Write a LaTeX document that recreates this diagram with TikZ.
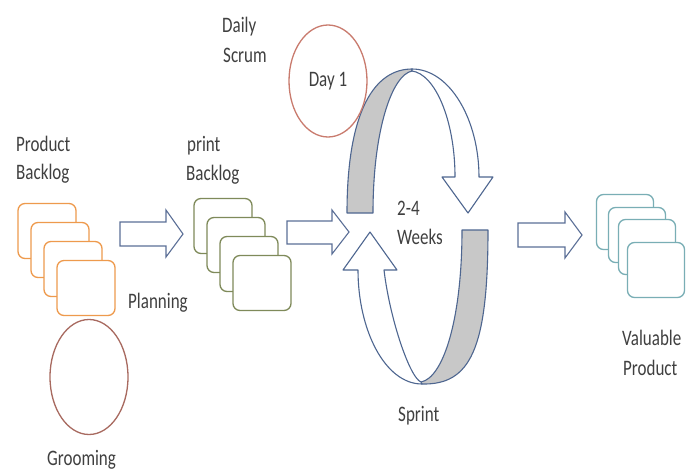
\documentclass[tikz,border=0pt]{standalone}
\usepackage{fontspec}
\setmainfont{Carlito}
\usepackage{graphicx}
\usetikzlibrary{shapes.geometric}

\definecolor{inkgray}{HTML}{404040}
\definecolor{cardorange}{HTML}{EE9A4D}
\definecolor{cardolive}{HTML}{7F8A5A}
\definecolor{cardteal}{HTML}{79AEB5}
\definecolor{dayred}{HTML}{C97B6E}
\definecolor{groomred}{HTML}{A86A60}
\definecolor{arrowblue}{HTML}{5B6F97}
\definecolor{ringblue}{HTML}{4E6690}
\definecolor{ringgray}{HTML}{C8C8C8}

% labels are set slightly taller than wide
\newcommand\tallword[1]{\scalebox{1}[1.3]{#1}}

\begin{document}
\begin{tikzpicture}[x=1pt,y=-1pt,
  lbl/.style={font=\fontsize{17}{20}\selectfont, text=inkgray, inner sep=0pt, anchor=base west},
  card/.style={draw, fill=white, rounded corners=7pt, line width=1.3pt,
               minimum width=58pt, minimum height=55pt, inner sep=0pt},
  pcard/.style={card, draw=cardorange},
  scard/.style={card, draw=cardolive},
  vcard/.style={card, draw=cardteal, minimum width=57pt},
  oval/.style={ellipse, draw, line width=1.3pt, inner sep=0pt},
  blockarrow/.style={draw=arrowblue, fill=white, line width=1.1pt, line join=miter},
  ring/.style={draw=ringblue, line width=1.1pt, line join=round},
]
\useasboundingbox (0,0) rectangle (691,471);
\fill[white] (0,0) rectangle (691,471);

% ---- Product backlog stack and grooming ----
\node[pcard] (pc1) at (47,231) {};
\node[pcard] (pc2) at (60,250) {};
\node[pcard] (pc3) at (73,269) {};
\node[pcard] (pc4) at (86,288) {};
\node[oval, draw=groomred, minimum width=78pt, minimum height=115pt] (groom) at (89,377) {};

\node[lbl] (pbA) at (16,151) {\tallword{Product}};
\node[lbl] (pbB) at (16,179) {\tallword{Backlog}};
\node[lbl] (groomtxt) at (47,465) {\tallword{Grooming}};
\node[lbl] (plan) at (128,308) {\tallword{Planning}};

% ---- Sprint backlog stack ----
\node[scard] (sc1) at (223,226) {};
\node[scard] (sc2) at (236,245) {};
\node[scard] (sc3) at (249,264) {};
\node[scard] (sc4) at (262,283) {};
\node[lbl] (sbA) at (187,151) {\tallword{print}};
\node[lbl] (sbB) at (186,180) {\tallword{Backlog}};

% ---- Block arrows ----
\path[blockarrow] (120,222) -- (166,222) -- (166,210) -- (183,234) -- (166,257)
                  -- (166,246) -- (120,246) -- cycle;
\path[blockarrow] (287,221) -- (332,221) -- (332,210) -- (349,232) -- (332,254)
                  -- (332,244) -- (287,244) -- cycle;
\path[blockarrow] (518,223) -- (565,223) -- (565,212) -- (582,235) -- (565,258)
                  -- (565,247) -- (518,247) -- cycle;

% ---- Sprint cycle: upper half ----
\path[ring, fill=ringgray] (347,213) .. controls (347,110) and (375,69) .. (412,69)
      -- (412,71) .. controls (392,75) and (373,130) .. (373,213) -- cycle;
\path[ring, fill=white] (412,69) .. controls (450,69) and (479,120) .. (479,177)
      -- (493,177) -- (468,213) -- (442,177) -- (455,177)
      .. controls (455,120) and (435,74) .. (412,71) -- cycle;

% ---- Sprint cycle: lower half ----
\path[ring, fill=ringgray] (488,230) .. controls (488,350) and (470,385) .. (422,384)
      -- (421,382) .. controls (443,378) and (462,320) .. (462,230) -- cycle;
\path[ring, fill=white] (422,384) .. controls (385,384) and (358,330) .. (358,270)
      -- (343,270) -- (370,232) -- (397,270) -- (384,270)
      .. controls (390,320) and (410,378) .. (421,382) -- cycle;

\node[lbl] (wkA) at (397,215) {\tallword{2-4}};
\node[lbl] (wkB) at (397,244) {\tallword{Weeks}};
\node[lbl] (sprint) at (398,421) {\tallword{Sprint}};

% ---- Daily scrum ----
\node[oval, draw=dayred, minimum width=78pt, minimum height=112pt,
      font=\fontsize{17}{20}\selectfont, text=inkgray] (day) at (328,81) {\tallword{Day 1}};
\node[lbl] (dsA) at (222,32) {\tallword{Daily}};
\node[lbl] (dsB) at (223,62) {\tallword{Scrum}};

% ---- Valuable product stack ----
\node[vcard] (vc1) at (625,222) {};
\node[vcard] (vc2) at (637,235) {};
\node[vcard] (vc3) at (647,247) {};
\node[vcard] (vc4) at (656,270) {};
\node[lbl] (vpA) at (622,345) {\tallword{Valuable}};
\node[lbl] (vpB) at (623,375) {\tallword{Product}};
\end{tikzpicture}
\end{document}
